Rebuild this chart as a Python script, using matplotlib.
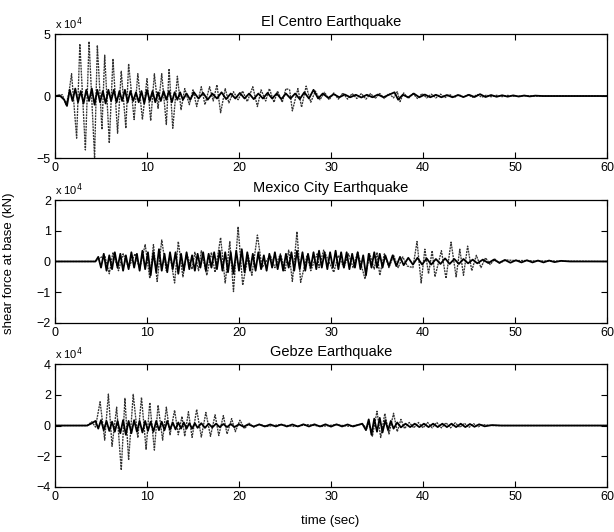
import matplotlib
matplotlib.use("Agg")
import matplotlib.pyplot as plt

plt.rcParams['font.family'] = ['Liberation Sans', 'DejaVu Sans']

# time (sec), shear force at base (x 1e4 kN)
# thin dotted = uncontrolled, thick solid = controlled
elcentro_unc = [(0, 0), (0.8, 0.1), (1.2, -0.7), (1.5, 0.2), (1.8, 1.8), (2.35, -3.4), (2.7, 4.2),
                (3.3, -4.35), (3.7, 4.4), (4.3, -5.0), (4.6, 4.1), (5.1, -2.7), (5.4, 3.3), (5.9, -3.8),
                (6.3, 3.0), (6.8, -3.0), (7.2, 2.0), (7.7, -2.6), (8.0, 2.6), (8.6, -1.9), (9.0, 1.8),
                (9.5, -1.9), (10.0, 1.4), (10.4, -2.0), (10.8, 1.8), (11.2, -1.0), (11.6, 1.8), (12.1, -2.3),
                (12.4, 2.2), (12.8, -2.6), (13.3, 1.6), (13.7, -1.1), (14.1, 0.6), (14.6, -0.7), (15.0, 0.5),
                (15.4, -0.85), (15.9, 0.75), (16.3, -0.7), (16.8, 0.75), (17.2, -0.4), (17.6, 0.9), (18.0, -1.35),
                (18.5, 0.6), (18.9, -0.55), (19.4, 0.35), (19.9, -0.3), (20.4, 0.4), (20.9, -0.45), (21.5, 0.75),
                (22.0, -0.85), (22.4, 0.5), (22.9, -0.4), (23.3, 0.6), (23.8, -0.5), (24.2, 0.4), (24.7, -0.5),
                (25.1, 0.6), (25.5, 0.5), (25.8, -1.2), (26.4, 0.6), (26.8, -0.9), (27.3, 0.8), (27.8, -0.5),
                (28.3, 0.4), (28.8, -0.3), (29.3, 0.3), (29.8, -0.3), (30.3, 0.25), (30.8, -0.25), (31.3, 0.25),
                (31.8, -0.25), (32.3, 0.2), (32.8, -0.2), (33.3, 0.2), (33.8, -0.25), (34.3, 0.2), (34.8, -0.2),
                (35.3, 0.2), (35.8, -0.2), (36.3, 0.2), (36.8, -0.15), (37.2, 0.35), (37.5, -0.45), (37.9, 0.25),
                (38.4, -0.2), (38.9, 0.2), (39.4, -0.2), (39.9, 0.2), (40.4, -0.15), (40.9, 0.15), (41.4, -0.15),
                (41.9, 0.15), (42.4, -0.12), (42.9, 0.12), (43.4, -0.12), (43.9, 0.12), (44.4, -0.1), (44.9, 0.1),
                (45.4, -0.1), (45.9, 0.12), (46.4, -0.1), (46.9, 0.08), (47.4, -0.06), (48.0, 0.06), (48.6, -0.05),
                (49.2, 0.05), (50.0, -0.03), (51.0, 0.02), (52.0, 0), (60, 0)]

elcentro_ctrl = [(0, 0), (0.5, 0.05), (1.0, -0.3), (1.3, -0.8), (1.6, 0.5), (1.9, -0.4), (2.2, 0.6), (2.5, -0.5),
                 (2.8, 0.4), (3.1, -0.6), (3.4, 0.5), (3.7, -0.4), (4.0, 0.6), (4.3, -0.7), (4.6, 0.5), (4.9, -0.5),
                 (5.2, 0.4), (5.5, -0.6), (5.8, 0.5), (6.1, -0.4), (6.4, 0.5), (6.7, -0.5), (7.0, 0.4), (7.3, -0.4),
                 (7.6, 0.5), (7.9, -0.5), (8.2, 0.4), (8.5, -0.4), (8.8, 0.3), (9.1, -0.5), (9.4, 0.4), (9.7, -0.6),
                 (10.0, 0.5), (10.3, -0.4), (10.6, 0.4), (10.9, -0.5), (11.2, 0.3), (11.5, -0.4), (11.8, 0.4),
                 (12.1, -0.3), (12.4, 0.4), (12.7, -0.5), (13.0, 0.3), (13.3, -0.3), (13.6, 0.3), (13.9, -0.3),
                 (14.3, 0.2), (14.7, -0.3), (15.1, 0.3), (15.6, -0.2), (16.1, 0.25), (16.6, -0.3), (17.1, 0.2),
                 (17.6, -0.2), (18.1, 0.3), (18.6, -0.25), (19.1, 0.2), (19.6, -0.2), (20.1, 0.25), (20.6, -0.2),
                 (21.1, 0.2), (21.6, -0.25), (22.1, 0.2), (22.6, -0.2), (23.1, 0.25), (23.6, -0.2), (24.1, 0.2),
                 (24.6, -0.25), (25.1, 0.2), (25.6, -0.2), (26.1, 0.2), (26.6, -0.25), (27.1, 0.3), (27.6, -0.2),
                 (28.1, 0.5), (28.6, -0.2), (29.1, 0.2), (29.7, -0.15), (30.3, 0.15), (30.9, -0.1), (31.5, 0.12),
                 (32.1, -0.1), (32.7, 0.1), (33.3, -0.12), (33.9, 0.1), (34.5, -0.1), (35.1, 0.12), (35.7, -0.1),
                 (36.3, 0.1), (36.9, 0.3), (37.3, -0.3), (37.8, 0.1), (38.4, -0.1), (39.0, 0.2), (39.6, -0.1),
                 (40.2, 0.12), (40.8, -0.1), (41.4, 0.1), (42.0, -0.1), (42.6, 0.08), (43.2, -0.1), (43.8, 0.08),
                 (44.4, -0.08), (45.0, 0.1), (45.6, -0.08), (46.2, 0.15), (46.8, -0.08), (47.4, 0.08), (48.0, -0.06),
                 (48.6, 0.06), (49.2, -0.05), (49.8, 0.05), (50.4, -0.04), (51.0, 0.04), (51.6, -0.03), (52.2, 0.03),
                 (53.0, 0), (60, 0)]

mexico_unc = [(0, 0), (4.3, 0), (4.8, 0.1), (5.4, 0.2), (5.9, -0.4), (6.3, 0.3), (6.9, -0.3), (7.4, 0.25),
              (8.0, -0.2), (8.7, 0.25), (9.2, -0.25), (9.8, 0.55), (10.3, -0.55), (10.7, 0.55), (11.1, -0.65),
              (11.6, 0.7), (12.1, -0.3), (12.5, 0.2), (13.0, -0.7), (13.4, 0.65), (13.9, -0.5), (14.3, 0.25),
              (14.9, -0.25), (15.2, 0.3), (15.6, -0.3), (15.9, 0.35), (16.5, -0.45), (17.0, 0.3), (17.4, -0.35),
              (18.0, 0.78), (18.5, -0.7), (19.0, 0.65), (19.4, -0.98), (19.9, 1.13), (20.4, -0.77), (21.0, 0.2),
              (21.4, -0.45), (22.0, 0.86), (22.5, -0.2), (23.4, 0.2), (23.9, -0.2), (24.5, 0.25), (25.0, -0.3),
              (25.4, 0.37), (25.8, -0.65), (26.3, 0.97), (26.7, -0.68), (27.4, 0.2), (27.8, -0.3), (28.5, 0.25),
              (28.7, -0.2), (29.2, 0.37), (30.3, -0.35), (30.8, 0.2), (31.4, -0.2), (31.9, 0.25), (32.4, -0.2),
              (32.9, 0.3), (33.7, -0.57), (34.2, 0.25), (34.7, -0.25), (35.0, 0.3), (35.3, -0.45), (35.8, 0.25),
              (36.3, -0.2), (36.8, 0.2), (37.3, -0.2), (37.8, 0.15), (38.3, -0.15), (38.9, -0.2), (39.35, 0.65),
              (39.8, -0.7), (40.2, 0.4), (40.6, -0.4), (41.0, 0.35), (41.3, -0.5), (42.0, 0.35), (42.5, -0.55),
              (43.05, 0.63), (43.6, -0.5), (44.0, 0.4), (44.4, -0.45), (44.85, 0.5), (45.3, -0.3), (45.8, 0.2),
              (46.3, -0.2), (46.8, 0.12), (47.3, -0.1), (47.8, 0.08), (48.3, -0.06), (49.0, 0.05), (50.0, 0.03),
              (51.0, 0.03), (52.0, 0.02), (60, 0)]

mexico_ctrl = [(0, 0), (4.4, 0), (4.7, 0.15), (5.0, -0.2), (5.3, 0.25), (5.6, -0.3), (5.9, 0.2), (6.2, -0.25),
               (6.5, 0.3), (6.8, -0.2), (7.1, 0.25), (7.4, -0.3), (7.7, 0.2), (8.0, -0.25), (8.3, 0.3), (8.6, -0.2),
               (8.9, 0.25), (9.2, -0.3), (9.5, 0.35), (9.8, -0.25), (10.1, 0.3), (10.4, -0.45), (10.7, 0.3),
               (11.0, -0.35), (11.3, 0.4), (11.6, -0.3), (11.9, 0.25), (12.2, -0.35), (12.5, 0.3), (12.8, -0.25),
               (13.1, 0.3), (13.4, -0.4), (13.7, 0.25), (14.0, -0.3), (14.3, 0.3), (14.6, -0.25), (14.9, 0.2),
               (15.2, -0.3), (15.5, 0.25), (15.8, -0.2), (16.1, 0.3), (16.4, -0.3), (16.7, 0.25), (17.0, -0.2),
               (17.3, 0.3), (17.6, -0.25), (17.9, 0.35), (18.2, -0.3), (18.5, 0.3), (18.8, -0.35), (19.1, 0.3),
               (19.4, -0.4), (19.7, 0.35), (20.0, -0.3), (20.3, 0.4), (20.6, -0.35), (20.9, 0.3), (21.2, -0.3),
               (21.5, 0.25), (21.8, -0.3), (22.1, 0.3), (22.4, -0.25), (22.7, 0.2), (23.0, -0.3), (23.3, 0.25),
               (23.6, -0.2), (23.9, 0.3), (24.2, -0.25), (24.5, 0.2), (24.8, -0.3), (25.1, 0.25), (25.4, -0.2),
               (25.7, 0.3), (26.0, -0.3), (26.3, 0.35), (26.6, -0.25), (26.9, 0.3), (27.2, -0.3), (27.5, 0.25),
               (27.8, -0.2), (28.1, 0.3), (28.4, -0.25), (28.7, 0.35), (29.0, -0.2), (29.3, 0.3), (29.6, -0.25),
               (29.9, 0.3), (30.2, -0.2), (30.5, 0.35), (30.8, -0.25), (31.1, 0.3), (31.4, -0.2), (31.7, 0.3),
               (32.0, -0.25), (32.3, 0.25), (32.6, -0.2), (32.9, 0.3), (33.2, -0.25), (33.5, 0.2), (33.8, -0.45),
               (34.1, 0.25), (34.4, -0.2), (34.7, 0.3), (35.0, -0.2), (35.3, 0.25), (35.6, -0.2), (35.9, 0.2),
               (36.3, -0.15), (36.7, 0.2), (37.1, -0.15), (37.5, 0.15), (37.9, -0.12), (38.4, 0.12), (38.9, -0.1),
               (39.4, 0.12), (39.9, -0.1), (40.4, 0.1), (40.9, -0.1), (41.4, 0.08), (41.9, -0.08), (42.4, 0.1),
               (42.9, -0.08), (43.4, 0.08), (43.9, -0.08), (44.4, 0.08), (44.9, -0.06), (45.4, 0.06), (45.9, -0.06),
               (46.5, 0.06), (47.1, -0.05), (47.7, 0.06), (48.3, -0.04), (48.9, 0.05), (49.5, -0.04), (50.1, 0.04),
               (50.7, -0.03), (51.3, 0.04), (51.9, -0.03), (52.5, 0.03), (53.1, -0.03), (53.7, 0.03), (54.3, -0.02),
               (55.0, 0.02), (56.0, 0), (60, 0)]

gebze_unc = [(0, 0), (3.5, 0), (4.0, 0.25), (4.4, -0.1), (4.9, 1.55), (5.4, -0.95), (5.8, 2.05), (6.2, -1.35),
             (6.7, 1.2), (7.2, -2.9), (7.6, 1.77), (8.0, -2.25), (8.5, 2.03), (9.0, -0.8), (9.4, 1.83), (9.9, -1.55),
             (10.3, 1.5), (10.8, -1.6), (11.2, 1.33), (11.7, -0.95), (12.1, 1.2), (12.5, -0.6), (13.0, 1.0),
             (13.4, -0.6), (13.8, 0.6), (14.1, -0.7), (14.5, 0.9), (14.9, -0.77), (15.4, 1.05), (15.9, -0.75),
             (16.4, 0.85), (16.9, -0.7), (17.4, 0.7), (17.8, -0.65), (18.3, 0.65), (18.7, -0.55), (19.2, 0.45),
             (19.6, -0.4), (20.1, 0.35), (20.6, -0.2), (21.1, 0.15), (21.6, -0.1), (22.2, 0.08), (23.0, -0.06),
             (24.5, 0.06), (26.0, -0.06), (27.5, 0.06), (29.0, -0.06), (30.5, 0.06), (32.0, -0.05), (33.0, 0.05),
             (33.4, 0.1), (33.9, -0.2), (34.1, 0.2), (34.5, -0.7), (35.0, 0.93), (35.4, -0.78), (35.85, 0.78),
             (36.3, -0.55), (36.8, 0.8), (37.2, -0.4), (37.6, 0.4), (38.0, -0.2), (38.5, 0.2), (39.0, -0.15),
             (39.5, 0.2), (40.0, -0.15), (40.5, 0.2), (41.0, -0.15), (41.5, 0.2), (42.0, -0.15), (42.5, 0.18),
             (43.0, -0.15), (43.5, 0.18), (44.0, -0.12), (44.5, 0.15), (45.0, -0.12), (45.5, 0.12), (46.0, -0.08),
             (46.5, 0.06), (47.5, 0), (60, 0)]

gebze_ctrl = [(0, 0), (3.5, 0), (4.0, 0.15), (4.4, 0.3), (4.7, -0.2), (5.0, 0.35), (5.3, -0.3), (5.6, 0.3),
              (5.9, -0.35), (6.2, 0.25), (6.5, -0.4), (6.8, 0.3), (7.1, -0.5), (7.4, 0.35), (7.7, -0.6), (8.0, 0.3),
              (8.3, -0.5), (8.6, 0.35), (8.9, -0.4), (9.2, 0.3), (9.5, -0.45), (9.8, 0.3), (10.1, -0.35),
              (10.4, 0.25), (10.7, -0.4), (11.0, 0.3), (11.3, -0.3), (11.6, 0.25), (11.9, -0.3), (12.2, 0.3),
              (12.5, -0.25), (12.8, 0.2), (13.1, -0.25), (13.4, 0.2), (13.7, -0.2), (14.0, 0.2), (14.3, -0.2),
              (14.6, 0.15), (14.9, -0.2), (15.2, 0.15), (15.5, -0.15), (15.9, 0.15), (16.3, -0.15), (16.7, 0.12),
              (17.1, -0.12), (17.5, 0.12), (17.9, -0.1), (18.3, 0.1), (18.7, -0.1), (19.1, 0.1), (19.5, -0.1),
              (20.0, 0.08), (20.5, -0.08), (21.0, 0.08), (21.6, -0.06), (22.2, 0.07), (22.8, -0.06), (23.4, 0.07),
              (24.0, -0.06), (24.6, 0.07), (25.2, -0.06), (25.8, 0.07), (26.4, -0.06), (27.0, 0.08), (27.6, -0.06),
              (28.2, 0.08), (28.8, -0.06), (29.4, 0.08), (30.0, -0.07), (30.6, 0.08), (31.2, -0.06), (31.8, 0.07),
              (32.4, -0.06), (33.0, 0.05), (33.4, 0.12), (33.8, -0.3), (34.1, 0.4), (34.4, -0.6), (34.7, 0.45),
              (35.0, -0.4), (35.3, 0.5), (35.6, -0.45), (35.9, 0.35), (36.2, -0.3), (36.5, 0.3), (36.8, -0.2),
              (37.2, 0.2), (37.6, -0.12), (38.1, 0.12), (38.6, -0.1), (39.1, 0.12), (39.6, -0.1), (40.1, 0.12),
              (40.6, -0.1), (41.1, 0.12), (41.6, -0.1), (42.1, 0.12), (42.6, -0.1), (43.1, 0.12), (43.6, -0.1),
              (44.1, 0.12), (44.6, -0.1), (45.1, 0.1), (45.6, -0.08), (46.1, 0.08), (46.7, -0.05), (47.5, 0.03),
              (48.5, 0), (60, 0)]

titles = ["El Centro Earthquake", "Mexico City Earthquake", "Gebze Earthquake"]
ylims = [(-5, 5), (-2, 2), (-4, 4)]
yticks = [[-5, 0, 5], [-2, -1, 0, 1, 2], [-4, -2, 0, 2, 4]]
xticks = [0, 10, 20, 30, 40, 50, 60]

fig = plt.figure(figsize=(6.14, 5.32), dpi=100)
boxes = [[0.0896, 0.703, 0.899, 0.233], [0.0896, 0.393, 0.899, 0.231], [0.0896, 0.0846, 0.899, 0.231]]
panels = [(elcentro_unc, elcentro_ctrl), (mexico_unc, mexico_ctrl), (gebze_unc, gebze_ctrl)]

for box, (unc, ctrl), title, yl, yt in zip(boxes, panels, titles, ylims, yticks):
    ax = fig.add_axes(box)
    tu, vu = zip(*unc)
    tc, vc = zip(*ctrl)
    ax.plot(tu, vu, color='0.2', lw=0.95, ls=(0, (1.5, 0.7)))
    ax.plot(tc, vc, color='black', lw=1.3)
    ax.set_xlim(0, 60)
    ax.set_ylim(*yl)
    ax.set_xticks(xticks)
    ax.set_yticks(yt)
    ax.tick_params(direction='in', top=True, right=True, length=4, labelsize=9, width=0.8, pad=3)
    for s in ax.spines.values():
        s.set_linewidth(0.9)
    ax.set_title(title, fontsize=10.5, pad=6)
    ax.text(0.0, 1.015, r"x 10$^4$", transform=ax.transAxes, fontsize=8, ha='left', va='bottom')

fig.text(0.015, 0.505, "shear force at base (kN)", rotation=90, ha='center', va='center', fontsize=9.5)
fig.text(0.538, 0.02, "time (sec)", ha='center', va='center', fontsize=9.5)

fig.savefig("out.png", dpi=100)
